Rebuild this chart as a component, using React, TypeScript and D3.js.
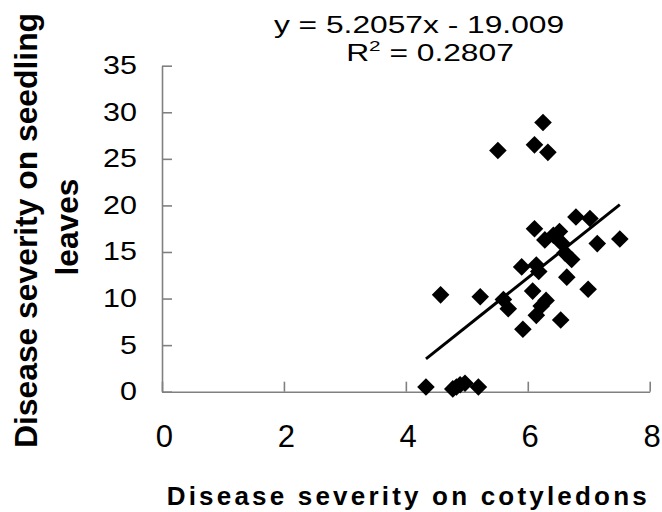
import React, { useEffect, useRef } from "react";
import * as d3 from "d3";

// Cotyledon severity (x) vs. seedling-leaf severity (y) per sample
const cotyledonSeverity = [
  6.25, 5.51, 6.11, 6.33, 6.79, 7.02, 7.51, 7.14, 6.11, 6.28, 6.52, 6.55, 6.61, 6.72,
  5.9, 6.14, 6.18, 6.64, 6.99, 6.08, 6.3, 5.6, 5.68, 6.14, 6.54, 5.92, 4.57, 5.22,
  4.33, 4.77, 4.89, 4.97, 5.19, 4.83, 6.42, 6.22,
];
const leafSeverity = [
  28.9, 25.9, 26.5, 25.7, 18.75, 18.6, 16.4, 15.9, 17.5, 16.3, 17.2, 16.0, 14.9, 14.2,
  13.4, 13.6, 12.9, 12.3, 11.0, 10.8, 9.8, 9.9, 8.9, 8.2, 7.7, 6.7, 10.4, 10.2,
  0.5, 0.3, 0.75, 0.9, 0.5, 0.5, 16.8, 9.2,
];

const xTicks = [0, 2, 4, 6, 8];
const yTicks = [0, 5, 10, 15, 20, 25, 30, 35];

// Linear fit shown on the chart
const slope = 5.2057;
const intercept = -19.009;
const rSquared = 0.2807;

const W = 662;
const H = 512;
const FONT = "'Liberation Sans', Arial, Helvetica, sans-serif";

export default function App() {
  const xAxisRef = useRef<SVGGElement>(null);
  const yAxisRef = useRef<SVGGElement>(null);

  const x = d3.scaleLinear().domain([0, 8]).range([162, 649.7]);
  const y = d3.scaleLinear().domain([0, 35]).range([391.7, 65.7]);

  useEffect(() => {
    const xa = d3.select(xAxisRef.current!);
    xa.call(
      d3.axisBottom(x).tickValues(xTicks).tickSizeInner(-10).tickSizeOuter(0).tickPadding(33)
    );
    xa.select(".domain").attr("stroke", "#808080").attr("stroke-width", 1.6);
    xa.selectAll(".tick line").attr("stroke", "#808080").attr("stroke-width", 1.6);
    xa.selectAll(".tick text")
      .attr("fill", "#000")
      .style("font-family", FONT)
      .style("font-size", "31px")
      .attr("dx", "0.06em");

    const ya = d3.select(yAxisRef.current!);
    ya.call(
      d3.axisLeft(y).tickValues(yTicks).tickSizeInner(-10).tickSizeOuter(0).tickPadding(25)
    );
    ya.select(".domain").attr("stroke", "#808080").attr("stroke-width", 1.6);
    ya.selectAll(".tick line").attr("stroke", "#808080").attr("stroke-width", 1.6);
    const sx = 1.22;
    ya.selectAll(".tick text")
      .attr("fill", "#000")
      .style("font-family", FONT)
      .style("font-size", "25px")
      .attr("x", -25 / sx)
      .attr("transform", `scale(${sx},1)`);
  }, []);

  const xMin = d3.min(cotyledonSeverity)!;
  const xMax = d3.max(cotyledonSeverity)!;
  const fit = d3
    .line<number>()
    .x((v) => x(v))
    .y((v) => y(slope * v + intercept));

  const diamond = d3.symbol().type(d3.symbolSquare).size(155)()!;

  return (
    <svg width={W} height={H} style={{ position: "absolute", left: 0, top: 0, background: "#fff" }}>
      <rect width={W} height={H} fill="#fff" />

      {/* Regression equation */}
      <g transform="translate(419,33) scale(1.38,1)">
        <text textAnchor="middle" fontFamily={FONT} fontSize={23} fill="#000">
          {`y = ${slope}x - ${Math.abs(intercept).toFixed(3)}`}
        </text>
      </g>
      <g transform="translate(430,61) scale(1.38,1)">
        <text textAnchor="middle" fontFamily={FONT} fontSize={23} fill="#000">
          R<tspan fontSize={15} dy={-10}>2</tspan>
          <tspan dy={10}>{` = ${rSquared}`}</tspan>
        </text>
      </g>

      <g ref={yAxisRef} transform={`translate(${x(0)},0)`} />
      <g ref={xAxisRef} transform={`translate(0,${y(0)})`} />

      {/* Points */}
      {cotyledonSeverity.map((cv, i) => (
        <path
          key={i}
          d={diamond}
          transform={`translate(${x(cv)},${y(leafSeverity[i])}) rotate(45)`}
          fill="#000"
        />
      ))}

      {/* Trend line */}
      <path d={fit([xMin, xMax])!} stroke="#000" strokeWidth={3} fill="none" />

      {/* Axis titles */}
      <text
        x={406.7}
        y={505}
        textAnchor="middle"
        fontFamily={FONT}
        fontWeight="bold"
        fontSize={26}
        textLength={480}
        lengthAdjust="spacing"
        fill="#000"
      >
        Disease severity on cotyledons
      </text>
      <g transform="translate(37,230.5) rotate(-90)">
        <text
          x={0}
          y={0}
          textAnchor="middle"
          fontFamily={FONT}
          fontWeight="bold"
          fontSize={32}
          textLength={435}
          lengthAdjust="spacingAndGlyphs"
          fill="#000"
        >
          Disease severity on seedling
        </text>
      </g>
      <g transform="translate(78,227) rotate(-90)">
        <text
          x={0}
          y={0}
          textAnchor="middle"
          fontFamily={FONT}
          fontWeight="bold"
          fontSize={32}
          textLength={97}
          lengthAdjust="spacingAndGlyphs"
          fill="#000"
        >
          leaves
        </text>
      </g>
    </svg>
  );
}
